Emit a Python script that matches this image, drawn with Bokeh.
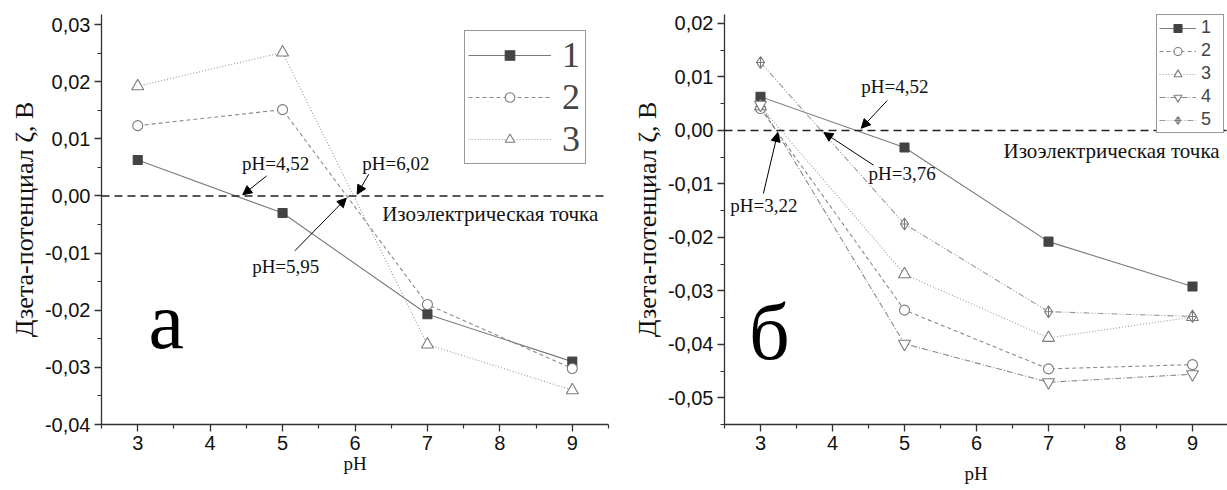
from bokeh.plotting import figure
from bokeh.layouts import row
from bokeh.models import (FixedTicker, CustomJSTickFormatter, Range1d, Span, Label,
                          Arrow, NormalHead, Legend, LegendItem)
from bokeh.embed import file_html
from bokeh.resources import INLINE

# ---------------- data ----------------
ph = [3, 5, 7, 9]

# panel "а"
a_s1 = [0.0063, -0.0030, -0.0207, -0.0290]
a_s2 = [0.0123, 0.0151, -0.0190, -0.0302]
a_s3 = [0.0192, 0.0251, -0.0260, -0.0340]

# panel "б"
b_s1 = [0.0063, -0.0032, -0.0208, -0.0292]
b_s2 = [0.0041, -0.0336, -0.0446, -0.0438]
b_s3 = [0.0045, -0.0269, -0.0388, -0.0349]
b_s4 = [0.0048, -0.0399, -0.0471, -0.0456]
b_s5 = [0.0127, -0.0175, -0.0339, -0.0348]

series_names = ["1", "2", "3", "4", "5"]

x_ticks = [3, 4, 5, 6, 7, 8, 9]
x_minor = [2.5, 3.5, 4.5, 5.5, 6.5, 7.5, 8.5, 9.5]
a_yticks = [-0.04, -0.03, -0.02, -0.01, 0.0, 0.01, 0.02, 0.03]
a_yminor = [-0.035, -0.025, -0.015, -0.005, 0.005, 0.015, 0.025]
b_yticks = [-0.05, -0.04, -0.03, -0.02, -0.01, 0.0, 0.01, 0.02]
b_yminor = [-0.055, -0.045, -0.035, -0.025, -0.015, -0.005, 0.005, 0.015]

axis_title_y = "Дзета-потенциал ζ, В"
axis_title_x = "pH"
iso_text = "Изоэлектрическая точка"

# annotations: text, text x, text y(center), arrow x0, y0, x1, y1
a_notes = [
    ("pH=4,52", 4.44, 0.0056, 4.78, 0.0035, 4.45, 0.0002),
    ("pH=6,02", 6.10, 0.0056, 6.19, 0.0038, 6.03, 0.0003),
    ("pH=5,95", 4.58, -0.0123, 5.17, -0.0096, 5.88, -0.0004),
]
b_notes = [
    ("pH=4,52", 4.40, 0.0082, 4.76, 0.0056, 4.40, 0.0004),
    ("pH=3,76", 4.50, -0.0080, 4.57, -0.0065, 3.88, -0.0004),
    ("pH=3,22", 2.58, -0.0140, 3.04, -0.0118, 3.24, -0.0004),
]

SERIF = "Liberation Serif"
SANS = "Liberation Sans"

styles = [
    dict(marker="square", dash="solid", line_color="#7a7a7a", fill="#444444", mline="#444444", size=9),
    dict(marker="circle", dash="4 3", line_color="#8a8a8a", fill="white", mline="#7a7a7a", size=10),
    dict(marker="triangle", dash="1 2", line_color="#9a9a9a", fill="white", mline="#7a7a7a", size=12),
    dict(marker="inverted_triangle", dash="6 2 1 2", line_color="#8a8a8a", fill="white", mline="#7a7a7a", size=12),
    dict(marker="diamond_cross", dash="6 2 1 2 1 2", line_color="#9a9a9a", fill="white", mline="#7a7a7a", size=12),
]

fmt = CustomJSTickFormatter(code="""
    var v = Math.abs(tick) < 1e-9 ? 0 : tick;
    return v.toFixed(2).replace('.', ',');
""")


def make_fig(width, height, mbl, mbr, mbt, mbb, xr, yr, yticks, yminor, xlab_standoff):
    p = figure(width=width, height=height, output_backend="svg", toolbar_location=None,
               x_range=Range1d(*xr), y_range=Range1d(*yr),
               min_border_left=mbl, min_border_right=mbr,
               min_border_top=mbt, min_border_bottom=mbb,
               x_axis_label=axis_title_x, y_axis_label=axis_title_y)
    p.outline_line_color = None
    p.grid.visible = False
    p.background_fill_color = "white"
    p.border_fill_color = "white"
    p.xaxis.ticker = FixedTicker(ticks=x_ticks, minor_ticks=x_minor)
    p.yaxis.ticker = FixedTicker(ticks=yticks, minor_ticks=yminor)
    p.yaxis.formatter = fmt
    for ax in (p.xaxis[0], p.yaxis[0]):
        ax.axis_line_color = "#333333"
        ax.axis_line_width = 1.3
        ax.major_tick_line_color = "#333333"
        ax.minor_tick_line_color = "#333333"
        ax.major_tick_line_width = 1.3
        ax.minor_tick_line_width = 1.2
        ax.major_tick_out = 7
        ax.major_tick_in = 0
        ax.minor_tick_out = 4
        ax.minor_tick_in = 0
        ax.major_label_text_font = SANS
        ax.major_label_text_font_size = "20px"
        ax.major_label_text_color = "#111111"
        ax.axis_label_text_font = SERIF
        ax.axis_label_text_font_style = "normal"
        ax.axis_label_text_color = "#111111"
    p.xaxis.axis_label_text_font_size = "19px"
    p.xaxis.axis_label_standoff = xlab_standoff
    p.xaxis.major_label_standoff = 4
    p.yaxis.axis_label_text_font_size = "26px"
    p.yaxis.axis_label_standoff = 3
    p.yaxis.major_label_standoff = 4
    # isoelectric line
    p.add_layout(Span(location=0, dimension="width", line_color="#222222",
                      line_dash="8 5", line_width=1.5))
    return p


def add_series(p, ys_list):
    rends = []
    for ys, st in zip(ys_list, styles):
        lr = p.line(ph, ys, line_color=st["line_color"], line_dash=st["dash"], line_width=1.1)
        sr = p.scatter(ph, ys, marker=st["marker"], size=st["size"], fill_color=st["fill"],
                       line_color=st["mline"], line_width=1.1)
        rends.append((lr, sr))
    return rends


def add_notes(p, notes, iso_x, iso_y):
    for t, tx, ty, x0, y0, x1, y1 in notes:
        p.add_layout(Label(x=tx, y=ty, text=t, text_font=SERIF, text_font_size="19px",
                           text_baseline="middle", text_color="#111111"))
        p.add_layout(Arrow(x_start=x0, y_start=y0, x_end=x1, y_end=y1, line_color="black",
                           line_width=1,
                           end=NormalHead(size=9, fill_color="black", line_color="black")))
    p.add_layout(Label(x=iso_x, y=iso_y, text=iso_text, text_font=SERIF, text_font_size="21px",
                       text_baseline="middle", text_color="#111111"))


# -------- panel а --------
pa = make_fig(622, 490, 101, 14, 14, 66, (2.5, 9.5), (-0.04, 0.03175), a_yticks, a_yminor, 0)
ra = add_series(pa, [a_s1, a_s2, a_s3])
add_notes(pa, a_notes, 6.375, -0.0032)
pa.add_layout(Label(x=3.15, y=-0.0219, text="а", text_font=SERIF, text_font_size="80px",
                    text_baseline="alphabetic", text_color="black"))
leg_a = Legend(items=[LegendItem(label=n, renderers=list(r)) for n, r in zip(series_names, ra)],
               location=(363, 260), orientation="vertical")
leg_a.label_text_font = SERIF
leg_a.label_text_font_size = "36px"
leg_a.glyph_width = 83
leg_a.glyph_height = 24
leg_a.label_height = 40
leg_a.label_standoff = 11
leg_a.spacing = 0
leg_a.padding = 3
leg_a.margin = 0
leg_a.border_line_color = "#333333"
leg_a.border_line_width = 1.2
leg_a.background_fill_color = "white"
leg_a.background_fill_alpha = 1
pa.add_layout(leg_a)

# -------- panel б --------
pb = make_fig(605, 490, 102, 0, 14, 66, (2.5, 9.486), (-0.055, 0.02168), b_yticks, b_yminor, 10)
rb = add_series(pb, [b_s1, b_s2, b_s3, b_s4, b_s5])
add_notes(pb, b_notes, 6.375, -0.0039)
pb.add_layout(Label(x=2.84, y=-0.0377, text="б", text_font=SERIF, text_font_size="80px",
                    text_baseline="alphabetic", text_color="black"))
leg_b = Legend(items=[LegendItem(label=n, renderers=list(r)) for n, r in zip(series_names, rb)],
               location=(432, 291), orientation="vertical")
leg_b.label_text_font = SANS
leg_b.label_text_font_size = "18px"
leg_b.glyph_width = 37
leg_b.glyph_height = 20
leg_b.label_height = 20
leg_b.label_standoff = 5
leg_b.spacing = 2
leg_b.padding = 2
leg_b.margin = 0
leg_b.border_line_color = "#333333"
leg_b.border_line_width = 1.2
leg_b.background_fill_color = "white"
leg_b.background_fill_alpha = 1
pb.add_layout(leg_b)

layout = row(pa, pb)
open("out.html", "w").write(file_html(layout, INLINE))
